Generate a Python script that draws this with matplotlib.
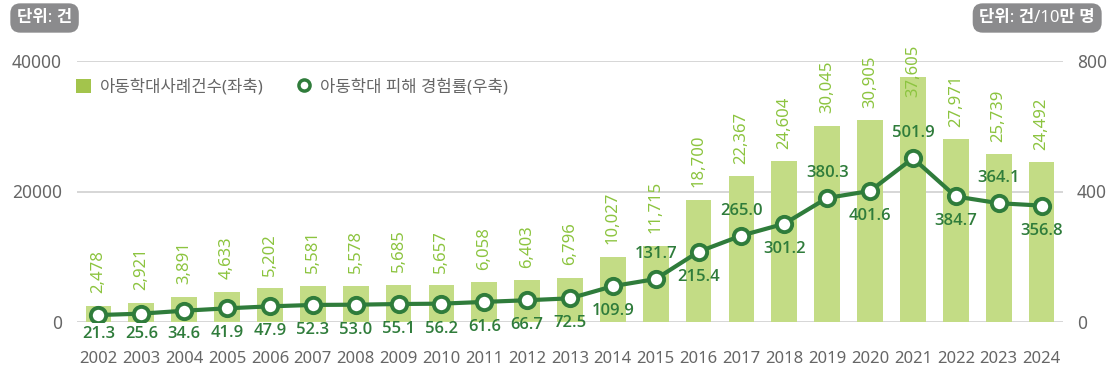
import numpy as np
import matplotlib
matplotlib.use("Agg")
import matplotlib.pyplot as plt
from matplotlib.patches import Patch
from matplotlib.lines import Line2D

plt.rcParams["font.family"] = ["Noto Sans", "Noto Sans CJK KR", "DejaVu Sans"]

years = [str(y) for y in range(2002, 2025)]
cases = [2478, 2921, 3891, 4633, 5202, 5581, 5578, 5685, 5657, 6058, 6403, 6796,
         10027, 11715, 18700, 22367, 24604, 30045, 30905, 37605, 27971, 25739, 24492]
rate = [21.3, 25.6, 34.6, 41.9, 47.9, 52.3, 53.0, 55.1, 56.2, 61.6, 66.7, 72.5,
        109.9, 131.7, 215.4, 265.0, 301.2, 380.3, 401.6, 501.9, 384.7, 364.1, 356.8]

bar_name = "아동학대사례건수(좌축)"
line_name = "아동학대 피해 경험률(우축)"

# which side of the point each rate label goes: -1 below, +1 above
label_side = [-1] * 13 + [1, -1, 1, -1, 1, -1, 1, -1, 1, -1]

BAR = "#c3dc85"
BAR_TXT = "#8cc43f"
LEG_SQ = "#a3c44c"
LINE = "#2f7c3b"
GRAY = "#666666"
GRID = "#d0d0d0"

fig = plt.figure(figsize=(11.11, 3.75), dpi=100)
ax = fig.add_axes([77 / 1111, 1 - 322 / 375, (1063 - 77) / 1111, (322 - 61) / 375])
ax2 = ax.twinx()

x = np.arange(len(years))
ax.bar(x, cases, width=0.6, color=BAR, zorder=2)
ax.set_xlim(-0.5, len(years) - 0.5)
ax.set_ylim(0, 40000)
ax.set_yticks([0, 20000, 40000])
ax.set_axisbelow(True)
ax.grid(axis="y", color=GRID, linewidth=1.2)
ax.set_xticks(x)
ax.set_xticklabels(years)
ax.tick_params(axis="x", length=0, pad=21, labelsize=12, labelcolor=GRAY)
ax.tick_params(axis="y", length=0, pad=11, labelsize=12.5, labelcolor=GRAY)
for s in ax.spines.values():
    s.set_visible(False)

# count labels above bars, kept inside the top of the plot
for xi, v in zip(x, cases):
    ax.annotate(f"{v:,}", (xi, min(v, 32600)), xytext=(0, 9), textcoords="offset points",
                rotation=90, ha="center", va="bottom", fontsize=12, color=BAR_TXT)

ax2.plot(x, rate, color=LINE, linewidth=3, marker="o", markersize=11,
         markerfacecolor="white", markeredgecolor=LINE, markeredgewidth=2.8, zorder=3)
ax2.set_ylim(0, 800)
ax2.set_yticks([0, 400, 800])
ax2.tick_params(axis="y", length=0, pad=10, labelsize=12.5, labelcolor=GRAY)
for s in ax2.spines.values():
    s.set_visible(False)

for xi, v, side in zip(x, rate, label_side):
    dy = 18 * side
    if side < 0:
        # keep the low labels from dropping into the year row
        ypx = ax2.transData.transform((xi, v))[1]
        floor = ax2.transAxes.transform((0, -0.045))[1]
        dy = max(dy, (floor - ypx) * 72 / fig.dpi)
    ax2.annotate(f"{v:.1f}", (xi, v), xytext=(0, dy), textcoords="offset points",
                 ha="center", va="center", fontsize=12, fontweight=600,
                 family=["Open Sans", "Noto Sans"], color=LINE)

handles = [
    Patch(facecolor=LEG_SQ, edgecolor="none"),
    Line2D([], [], linestyle="none", marker="o", markersize=8, markerfacecolor="white",
           markeredgecolor=LINE, markeredgewidth=2.5),
]
ax.legend(handles, [bar_name, line_name], loc="center left", bbox_to_anchor=(-0.016, 0.9),
          ncol=2, frameon=False, fontsize=12, labelcolor=GRAY, handlelength=0.9,
          handleheight=0.9, handletextpad=0.5, columnspacing=2.0)

box = dict(boxstyle="round,pad=0.4,rounding_size=0.6", facecolor="#8b8b8d", edgecolor="none")
fig.text(17 / 1111, 1 - 18 / 375, "단위: 건", ha="left", va="center", fontsize=12,
         fontweight="bold", color="white", bbox=box)
fig.text(1095 / 1111, 1 - 18 / 375, "단위: 건/10만 명", ha="right", va="center", fontsize=12,
         fontweight="bold", color="white", bbox=box)

fig.savefig("out.png", dpi=100)
